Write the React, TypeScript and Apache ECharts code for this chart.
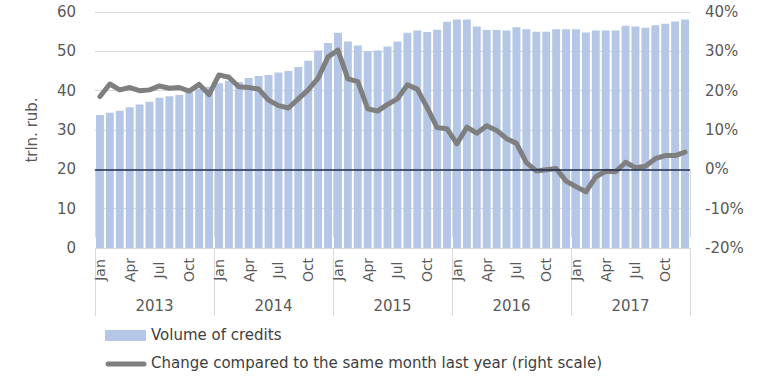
import React, { useEffect, useRef } from "react";
import * as echarts from "echarts";

const years = ["2013", "2014", "2015", "2016", "2017"];
const monthNames = ["Jan", "Feb", "Mar", "Apr", "May", "Jun", "Jul", "Aug", "Sep", "Oct", "Nov", "Dec"];
const leftTicks = [0, 10, 20, 30, 40, 50, 60];
const rightTicks = [-20, -10, 0, 10, 20, 30, 40];

const volume2013 = [33.8, 34.4, 34.9, 35.8, 36.5, 37.2, 38.2, 38.6, 38.9, 39.6, 40.5, 41.0];
const volume2014 = [41.9, 42.5, 42.2, 43.2, 43.7, 44.0, 44.6, 45.0, 46.0, 47.6, 50.2, 52.1];
const volume2015 = [54.7, 52.5, 51.5, 50.0, 50.2, 51.2, 52.5, 54.7, 55.3, 54.9, 55.5, 57.5];
const volume2016 = [58.1, 58.1, 56.3, 55.4, 55.4, 55.3, 56.1, 55.6, 55.0, 55.0, 55.6, 55.6];
const volume2017 = [55.6, 54.8, 55.3, 55.3, 55.3, 56.5, 56.3, 56.0, 56.6, 57.0, 57.6, 58.1];

const change2013 = [18.5, 21.7, 20.2, 20.8, 20.0, 20.2, 21.2, 20.6, 20.8, 19.9, 21.6, 19.0];
const change2014 = [24.0, 23.4, 21.0, 20.8, 20.4, 17.6, 16.2, 15.6, 17.9, 20.2, 23.2, 28.6];
const change2015 = [30.3, 23.0, 22.3, 15.4, 14.8, 16.5, 17.9, 21.5, 20.4, 15.7, 10.6, 10.3];
const change2016 = [6.5, 10.7, 9.2, 11.1, 9.9, 7.8, 6.6, 1.7, -0.4, -0.1, 0.2, -3.0];
const change2017 = [-4.4, -5.7, -1.9, -0.5, -0.6, 1.8, 0.4, 0.8, 2.7, 3.5, 3.5, 4.4];

const seriesNames = ["Volume of credits", "Change compared to the same month last year (right scale)"];

const months = years.flatMap(() => monthNames);
const volume = [...volume2013, ...volume2014, ...volume2015, ...volume2016, ...volume2017];
const change = [...change2013, ...change2014, ...change2015, ...change2016, ...change2017];

const FONT = "DejaVu Sans";
const LABEL = "#595959";
const GRIDC = "#d9d9d9";
const BAR = "#b4c7e7";
const LINE = "#7f7f7f";

export default function App() {
  const ref = useRef<HTMLDivElement>(null);
  useEffect(() => {
    if (!ref.current) return;
    const chart = echarts.init(ref.current, null, { renderer: "svg" });
    chart.setOption({
      animation: false,
      textStyle: { fontFamily: FONT },
      grid: { left: 95, right: 67, top: 12, bottom: 135 },
      graphic: [
        { type: "rect", left: 105, top: 330, shape: { width: 41, height: 11 }, style: { fill: BAR } },
        {
          type: "text",
          left: 151,
          top: 327,
          style: { text: seriesNames[0], fontFamily: FONT, fontSize: 15, fill: "#404040" },
        },
        {
          type: "line",
          shape: { x1: 108, y1: 364, x2: 144, y2: 364 },
          style: { stroke: LINE, lineWidth: 5, lineCap: "round" },
        },
        {
          type: "text",
          left: 151,
          top: 355,
          style: { text: seriesNames[1], fontFamily: FONT, fontSize: 15, fill: "#404040" },
        },
      ],
      xAxis: [
        {
          type: "category",
          data: months,
          position: "bottom",
          axisLine: { show: false },
          axisTick: {
            show: true,
            interval: (i: number) => i % 12 === 0,
            length: 68,
            lineStyle: { color: GRIDC, width: 1 },
          },
          axisLabel: {
            interval: 2,
            rotate: 90,
            align: "center",
            verticalAlign: "middle",
            margin: 22,
            fontSize: 14,
            color: LABEL,
            fontFamily: FONT,
          },
        },
        {
          type: "category",
          data: years,
          position: "bottom",
          axisLine: { show: true, lineStyle: { color: GRIDC, width: 1 } },
          axisTick: { show: true, length: 68, lineStyle: { color: GRIDC, width: 1 } },
          axisLabel: { margin: 50, fontSize: 15, color: LABEL, fontFamily: FONT },
        },
      ],
      yAxis: [
        {
          type: "value",
          min: leftTicks[0],
          max: leftTicks[leftTicks.length - 1],
          interval: 10,
          name: "trln. rub.",
          nameLocation: "middle",
          nameGap: 56,
          nameTextStyle: { fontSize: 15, color: LABEL, fontFamily: FONT },
          axisLine: { show: false },
          axisTick: { show: false },
          axisLabel: { margin: 19, fontSize: 15, color: LABEL, fontFamily: FONT },
          splitLine: { show: true, lineStyle: { color: GRIDC, width: 1 } },
        },
        {
          type: "value",
          min: rightTicks[0],
          max: rightTicks[rightTicks.length - 1],
          interval: 10,
          axisLine: { show: false },
          axisTick: { show: false },
          axisLabel: { margin: 15, fontSize: 15, color: LABEL, fontFamily: FONT, formatter: "{value}%" },
          splitLine: { show: false },
        },
      ],
      series: [
        {
          name: seriesNames[0],
          type: "bar",
          xAxisIndex: 0,
          yAxisIndex: 0,
          data: volume,
          barCategoryGap: "20%",
          itemStyle: { color: BAR },
          markLine: {
            silent: true,
            symbol: "none",
            label: { show: false },
            lineStyle: { color: "#1f2d4d", width: 1.5, type: "solid" },
            data: [{ yAxis: 20 }],
          },
        },
        {
          name: seriesNames[1],
          type: "line",
          xAxisIndex: 0,
          yAxisIndex: 1,
          data: change,
          symbol: "none",
          lineStyle: { color: LINE, width: 5, cap: "round", join: "round" },
          itemStyle: { color: LINE },
        },
      ],
    });
    return () => chart.dispose();
  }, []);
  return <div ref={ref} style={{ position: "absolute", left: 0, top: 0, width: 757, height: 383 }} />;
}
